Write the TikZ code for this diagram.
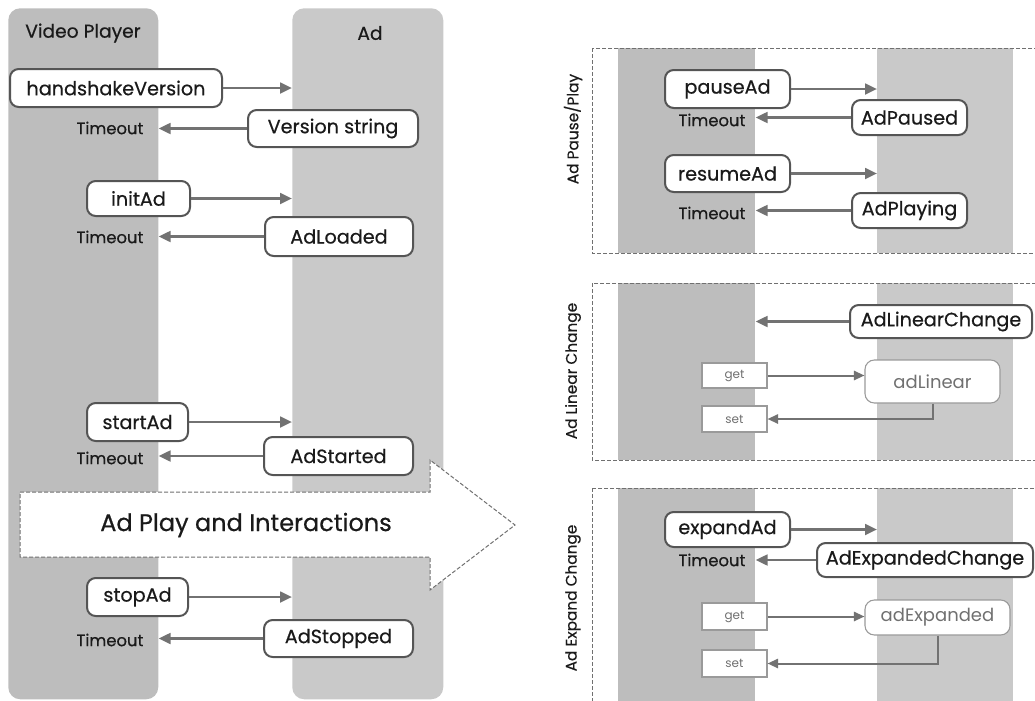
\documentclass[tikz,border=0pt]{standalone}
\usepackage{fontspec}
\setmainfont{Poppins}[FakeBold=0.5]
\newfontfamily\lightfont{Poppins}
\usetikzlibrary{arrows.meta}
\definecolor{vpgray}{HTML}{BDBDBD}
\definecolor{adgray}{HTML}{C9C9C9}
\definecolor{bdark}{HTML}{555555}
\definecolor{agray}{HTML}{727272}
\definecolor{lborder}{HTML}{9A9A9A}
\definecolor{ltext}{HTML}{707070}
\definecolor{dgray}{HTML}{707070}
\definecolor{txt}{HTML}{1A1A1A}
\begin{document}
\begin{tikzpicture}[x=0.75pt,y=-0.75pt,
  bw/.style={minimum width=#1*0.75pt},
  bh/.style={minimum height=#1*0.75pt},
  lane/.style={draw=none, inner sep=0pt, anchor=north west},
  bx/.style={draw=bdark, line width=1.5pt, rounded corners=6.5pt, fill=white, inner sep=0pt, text=txt, font=\fontsize{14.4}{16}\selectfont},
  lbx/.style={draw=lborder, line width=0.8pt, fill=white, inner sep=0pt, text=ltext, font=\lightfont\fontsize{9}{11}\selectfont},
  lbxr/.style={draw=lborder, line width=0.8pt, rounded corners=7pt, fill=white, inner sep=0pt, text=ltext, font=\lightfont\fontsize{13.5}{15}\selectfont},
  tmo/.style={text=txt, font=\fontsize{12.3}{13}\selectfont},
  ttl/.style={text=txt, font=\fontsize{14}{15}\selectfont},
  rlab/.style={text=txt, rotate=90, font=\fontsize{11.5}{13}\selectfont},
  arr/.style={draw=agray, line width=2pt, -{Triangle[length=9pt,width=8pt]}},
  tarr/.style={draw=agray, line width=1.5pt, -{Triangle[length=8pt,width=7pt]}},
  dbox/.style={draw=dgray, line width=0.75pt, dash pattern=on 3pt off 1.5pt}
]
\useasboundingbox (0,0) rectangle (1035,700);
% left lanes
\node[lane, fill=vpgray, rounded corners=9pt, bw=150, bh=691] (vp) at (8,8) {};
\node[lane, fill=adgray, rounded corners=9pt, bw=151, bh=691] (ad) at (292,8) {};
\node[ttl] (vpt) at (83,33) {Video Player};
\node[ttl] (adt) at (370,33) {Ad};
% handshake
\node[bx,bw=212,bh=38] (hv) at (116,88) {handshakeVersion};
\node[tmo] (t1) at (110,128) {Timeout};
\node[bx,bw=170,bh=37] (vs) at (333,128.5) {Version string};
\draw[arr] (hv.east) -- (hv.east -| ad.west);
\draw[arr] (vs.west) -- (vs.west -| vp.east);
% init
\node[bx,bw=103,bh=35] (ia) at (138.5,198.5) {initAd};
\node[tmo] (t2) at (110,237) {Timeout};
\node[bx,bw=148,bh=39] (ald) at (339,236.5) {AdLoaded};
\draw[arr] (ia.east) -- (ia.east -| ad.west);
\draw[arr] (ald.west) -- (ald.west -| vp.east);
% start
\node[bx,bw=101,bh=38] (sa) at (137.5,422) {startAd};
\node[tmo] (t3) at (110,458) {Timeout};
\node[bx,bw=149,bh=38] (ast) at (338.5,456) {AdStarted};
\draw[arr] (sa.east) -- (sa.east -| ad.west);
\draw[arr] (ast.west) -- (ast.west -| vp.east);
% stop
\node[bx,bw=101,bh=38] (so) at (137.5,597) {stopAd};
\node[tmo] (t4) at (110,640) {Timeout};
\node[bx,bw=149,bh=37] (asp) at (338.5,638.5) {AdStopped};
\draw[arr] (so.east) -- (so.east -| ad.west);
\draw[arr] (asp.west) -- (asp.west -| vp.east);
% big arrow
\draw[dbox, fill=white] (20,492) -- (430,492) -- (430,460) -- (515,525) -- (430,590) -- (430,557) -- (20,557) -- cycle;
\node[text=txt, font=\fontsize{18}{20}\selectfont] (pi) at (246,525) {Ad Play and Interactions};

% right part lanes
\node[lane, fill=vpgray, bw=137, bh=205] (l1) at (618,48) {};
\node[lane, fill=adgray, bw=136, bh=205] (r1) at (877,48) {};
\node[lane, fill=vpgray, bw=137, bh=177] (l2) at (618,283) {};
\node[lane, fill=adgray, bw=136, bh=177] (r2) at (877,283) {};
\node[lane, fill=vpgray, bw=137, bh=222] (l3) at (618,488) {};
\node[lane, fill=adgray, bw=136, bh=222] (r3) at (877,488) {};
\draw[dbox] (592,48) rectangle (1045,253);
\draw[dbox] (592,283) rectangle (1045,460);
\draw[dbox] (592,488) rectangle (1045,715);
\node[rlab] (lab1) at (573,129) {Ad Pause/Play};
\node[rlab] (lab2) at (573,371) {Ad Linear Change};
\node[rlab] (lab3) at (573,598) {Ad Expand Change};

% pause / play
\node[bx,bw=125,bh=38] (pa) at (727.5,89) {pauseAd};
\node[tmo] (t5) at (712,120) {Timeout};
\node[bx,bw=115,bh=35] (apd) at (909.5,117.5) {AdPaused};
\node[bx,bw=125,bh=37] (ra) at (727.5,173.5) {resumeAd};
\node[tmo] (t6) at (712,213) {Timeout};
\node[bx,bw=115,bh=35] (apl) at (909.5,210.5) {AdPlaying};
\draw[arr] (pa.east) -- (pa.east -| r1.west);
\draw[arr] (apd.west) -- (apd.west -| l1.east);
\draw[arr] (ra.east) -- (ra.east -| r1.west);
\draw[arr] (apl.west) -- (apl.west -| l1.east);

% linear change
\node[bx,bw=182,bh=33] (alc) at (941,321.5) {AdLinearChange};
\node[lbx,bw=65,bh=25] (g1) at (734.5,375.5) {get};
\node[lbxr,bw=135,bh=43] (adl) at (932.5,381.5) {adLinear};
\node[lbx,bw=65,bh=26] (s1) at (734.5,419) {set};
\draw[arr] (alc.west) -- (alc.west -| l2.east);
\draw[tarr] (g1.east) -- (g1.east -| adl.west);
\draw[tarr] (adl.south) |- (s1.east);

% expand change
\node[bx,bw=125,bh=35] (ea) at (727.5,529.5) {expandAd};
\node[tmo] (t7) at (712,560) {Timeout};
\node[bx,bw=216,bh=34] (aec) at (925,560) {AdExpandedChange};
\node[lbx,bw=65,bh=27] (g2) at (734.5,616.5) {get};
\node[lbxr,bw=145,bh=35] (ade) at (937.5,617.5) {adExpanded};
\node[lbx,bw=65,bh=27] (s2) at (734.5,663.5) {set};
\draw[arr] (ea.east) -- (ea.east -| r3.west);
\draw[arr] (aec.west) -- (aec.west -| l3.east);
\draw[tarr] (g2.east) -- (g2.east -| ade.west);
\draw[tarr] (ade.south) |- (s2.east);
\end{tikzpicture}
\end{document}
